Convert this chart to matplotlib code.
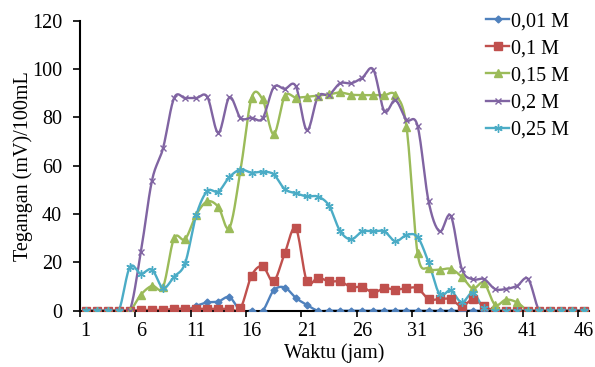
import numpy as np
import matplotlib
matplotlib.use("Agg")
import matplotlib.pyplot as plt
from matplotlib.lines import Line2D

plt.rcParams['font.family'] = ['Liberation Serif', 'DejaVu Serif']

# Time axis (jam)
waktu = list(range(1, 47))

labels = ['0,01 M', '0,1 M', '0,15 M', '0,2 M', '0,25 M']

m001 = [0, 0, 0, 0, 0, 0, 0, 0, 0, 0,
        2.0, 3.4, 3.8, 5.6, 0, 0, 0, 8.4, 9.6, 5.3,
        2.4, 0, 0, 0, 0, 0, 0, 0, 0, 0,
        0, 0, 0, 0, 0, 0, 0, 0, 0, 0,
        0, 0, 0, 0, 0, 0]

m01 = [0, 0, 0, 0, 0, 0.3, 0.3, 0.3, 0.8, 0.8,
       0.8, 0.8, 0.8, 0.8, 1.0, 14.5, 18.4, 12.2, 23.8, 34.1,
       12.1, 13.7, 12.1, 12.1, 9.8, 9.8, 7.5, 9.3, 8.7, 9.3,
       9.3, 4.8, 4.8, 4.8, 1.8, 4.7, 1.8, 0, 0, 0,
       0, 0, 0, 0, 0, 0]

m015 = [0, 0, 0, 0, 0, 6.6, 10.3, 9.8, 30.0, 29.6,
        39.7, 45.2, 42.9, 34.3, 58.0, 88.0, 87.4, 73.0, 88.7, 88.2,
        88.5, 89.0, 89.5, 90.3, 89.4, 89.2, 89.2, 89.2, 89.2, 76.2,
        23.8, 17.5, 17.0, 17.3, 14.0, 9.2, 11.5, 2.5, 4.6, 3.4,
        0, 0, 0, 0, 0, 0]

m02 = [0, 0, 0, 0, 0, 24.3, 53.8, 67.2, 88.0, 88.0,
       88.0, 88.5, 73.6, 88.3, 79.8, 79.8, 79.6, 92.4, 91.8, 92.9,
       74.7, 88.6, 89.3, 94.1, 94.1, 96.4, 99.8, 82.6, 87.1, 79.0,
       76.5, 45.2, 32.8, 39.3, 17.3, 13.0, 13.1, 9.0, 9.0, 10.3,
       13.1, 0, 0, 0, 0, 0]

m025 = [0, 0, 0, 0, 18.0, 15.3, 17.0, 9.4, 14.1, 19.7,
        39.5, 49.5, 49.3, 55.3, 58.4, 57.1, 57.5, 56.4, 50.3, 48.6,
        47.3, 47.2, 43.5, 33.0, 29.5, 32.8, 32.8, 32.8, 28.7, 31.3,
        30.5, 20.0, 6.8, 8.4, 3.4, 7.5, 1.0, 0, 0, 0,
        0, 0, 0, 0, 0, 0]

series = [m001, m01, m015, m02, m025]
colors = ['#4F81BD', '#C0504D', '#9BBB59', '#8064A2', '#4BACC6']
markers = ['D', 's', '^', 'x', (6, 2, 0)]
msizes = [3.5, 5.5, 6, 5, 6]


def smooth(x, y, n=16):
    # Excel-like smoothed line (Catmull-Rom as cubic Bezier)
    x = np.asarray(x, float)
    y = np.asarray(y, float)
    px = np.concatenate([[x[0]], x, [x[-1]]])
    py = np.concatenate([[y[0]], y, [y[-1]]])
    t = np.linspace(0, 1, n)[:, None]
    xs, ys = [], []
    for i in range(1, len(px) - 2):
        p0 = np.array([px[i], py[i]])
        p3 = np.array([px[i + 1], py[i + 1]])
        c1 = p0 + (p3 - np.array([px[i - 1], py[i - 1]])) / 6
        c2 = p3 - (np.array([px[i + 2], py[i + 2]]) - p0) / 6
        b = ((1 - t) ** 3) * p0 + 3 * ((1 - t) ** 2) * t * c1 \
            + 3 * (1 - t) * t ** 2 * c2 + t ** 3 * p3
        xs.append(b[:, 0])
        ys.append(b[:, 1])
    return np.concatenate(xs), np.concatenate(ys)


fig = plt.figure(figsize=(5.95, 3.67), dpi=100)
ax = fig.add_axes([0.1345, 0.1534, 0.8555, 0.7902])

handles = []
for vals, c, m, ms, lab in zip(series, colors, markers, msizes, labels):
    sx, sy = smooth(waktu, vals)
    ax.plot(sx, sy, color=c, lw=1.7, solid_capstyle='round', zorder=2)
    ax.plot(waktu, vals, ls='none', marker=m, ms=ms, color=c,
            mec=c, mew=1.0, zorder=3)
    handles.append(Line2D([], [], color=c, lw=1.7, marker=m, ms=ms,
                          mec=c, mew=1.0))

ax.set_xlim(0.5, 46.5)
ax.set_ylim(0, 120)
ax.set_yticks(range(0, 121, 20))
ax.set_xticks(range(1, 47, 5))
ax.set_xticks(np.arange(0.5, 46, 5), minor=True)
ax.tick_params(axis='x', which='major', length=0, pad=8, labelsize=14.5)
ax.tick_params(axis='x', which='minor', length=4, width=1.2, direction='out')
ax.tick_params(axis='y', length=5, width=1.2, pad=8, labelsize=14.5)

for s in ['top', 'right']:
    ax.spines[s].set_visible(False)
for s in ['left', 'bottom']:
    ax.spines[s].set_linewidth(1.5)

ax.set_xlabel('Waktu (jam)', fontsize=14.5, labelpad=2)
ax.set_ylabel('Tegangan (mV)/100mL', fontsize=14.5, labelpad=-1)

fig.legend(handles, labels, loc='upper left',
           bbox_to_anchor=(486 / 595, 1 - 12 / 367), frameon=False,
           fontsize=14.5, handlelength=1.15, handletextpad=0.1,
           labelspacing=0.4, borderpad=0, borderaxespad=0)

fig.savefig('out.png', dpi=100)
